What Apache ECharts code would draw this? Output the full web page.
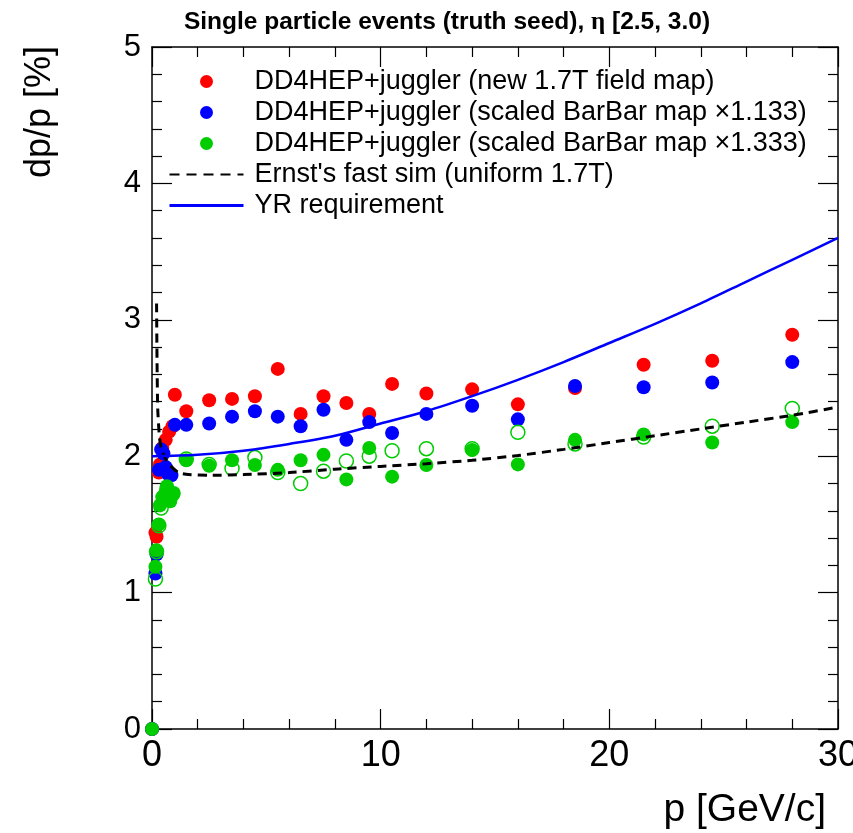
<!DOCTYPE html>
<html><head><meta charset="utf-8">
<script src="https://cdn.jsdelivr.net/npm/echarts@6/dist/echarts.min.js"></script>
<style>html,body{margin:0;padding:0;background:#fff}#c{width:853px;height:833px}</style>
</head><body><div id="c"></div>
<script>
// ---- data ----
const pRed  = [0, 0.15, 0.2, 0.3, 0.35, 0.45, 0.6, 0.75, 0.9, 1.0, 1.5, 2.5, 3.5, 4.5, 5.5, 6.5, 7.5, 8.5, 9.5, 10.5, 12, 14, 16, 18.5, 21.5, 24.5, 28];
const dpRed = [0, 1.44, 1.41, 1.88, 1.94, 2.06, 2.12, 2.18, 2.22, 2.45, 2.33, 2.41, 2.42, 2.44, 2.64, 2.31, 2.44, 2.39, 2.31, 2.53, 2.46, 2.49, 2.38, 2.50, 2.67, 2.70, 2.89];

const pBlue  = [0, 0.15, 0.2, 0.3, 0.4, 0.5, 0.6, 0.7, 0.85, 1.0, 1.5, 2.5, 3.5, 4.5, 5.5, 6.5, 7.5, 8.5, 9.5, 10.5, 12, 14, 16, 18.5, 21.5, 24.5, 28];
const dpBlue = [0, 1.14, 1.28, 1.90, 2.05, 2.02, 1.92, 1.87, 1.86, 2.23, 2.23, 2.24, 2.29, 2.33, 2.29, 2.22, 2.34, 2.12, 2.25, 2.17, 2.31, 2.37, 2.27, 2.515, 2.505, 2.54, 2.69];

const pGreen  = [0, 0.15, 0.2, 0.3, 0.35, 0.45, 0.6, 0.65, 0.8, 0.95, 1.5, 2.5, 3.5, 4.5, 5.5, 6.5, 7.5, 8.5, 9.5, 10.5, 12, 14, 16, 18.5, 21.5, 24.5, 28];
const dpGreen = [0, 1.19, 1.31, 1.50, 1.64, 1.70, 1.73, 1.78, 1.67, 1.73, 1.97, 1.93, 1.97, 1.935, 1.90, 1.97, 2.01, 1.83, 2.06, 1.85, 1.935, 2.045, 1.94, 2.12, 2.16, 2.10, 2.25];

const pGreenOpen  = [0.15, 0.2, 0.3, 0.4, 0.5, 0.65, 0.9, 1.5, 2.5, 3.5, 4.5, 5.5, 6.5, 7.5, 8.5, 9.5, 10.5, 12, 14, 16, 18.5, 21.5, 24.5, 28];
const dpGreenOpen = [1.10, 1.30, 1.49, 1.62, 1.70, 1.76, 1.72, 1.98, 1.94, 1.91, 1.99, 1.88, 1.80, 1.89, 1.965, 2.00, 2.04, 2.055, 2.055, 2.175, 2.09, 2.14, 2.22, 2.35];

const pErnst  = [0.2, 0.22, 0.25, 0.32, 0.4, 0.58, 0.87, 1.16, 1.6, 2.5, 4, 6, 8, 10, 12, 14, 16, 18, 20, 22, 24, 26, 28, 30];
const dpErnst = [3.12, 2.7, 2.35, 2.15, 2.06, 1.985, 1.92, 1.88, 1.865, 1.86, 1.865, 1.88, 1.905, 1.925, 1.945, 1.97, 2.005, 2.05, 2.10, 2.15, 2.20, 2.25, 2.30, 2.36];

const pYR  = [0, 2, 4, 6, 8, 10, 12, 14, 16, 18, 20, 22, 24, 26, 28, 30];
const dpYR = [2.0, 2.01, 2.04, 2.09, 2.15, 2.24, 2.33, 2.44, 2.56, 2.69, 2.83, 2.97, 3.12, 3.28, 3.44, 3.60];

const names = [
  'DD4HEP+juggler (new 1.7T field map)',
  'DD4HEP+juggler (scaled BarBar map \u00d71.133)',
  'DD4HEP+juggler (scaled BarBar map \u00d71.333)',
  "Ernst's fast sim (uniform 1.7T)",
  'YR requirement'
];
const titleMain = 'Single particle events (truth seed), ';
const titleEta = '\u03b7';
const titleRange = ' [2.5, 3.0)';
const xTitle = 'p [GeV/c]';
const yTitle = 'dp/p [%]';

const zip = (a, b) => a.map((v, i) => [v, b[i]]);
const FONT = '"Liberation Sans", Helvetica, Arial, sans-serif';

const chart = echarts.init(document.getElementById('c'), null, {renderer: 'canvas'});

const axisCommon = {
  axisLine: {show: true, onZero: false, lineStyle: {color: '#000', width: 1.5}},
  axisTick: {show: true, inside: true, length: 20, lineStyle: {color: '#000', width: 1.2}},
  minorTick: {show: true, splitNumber: 5, length: 10, lineStyle: {color: '#000', width: 1.2}},
  splitLine: {show: false},
  minorSplitLine: {show: false}
};

chart.setOption({
  animation: false,
  backgroundColor: '#fff',
  title: {
    text: '{b|' + titleMain + '}{e|' + titleEta + '}{b|' + titleRange + '}',
    left: 442, top: 5, textAlign: 'center',
    textStyle: {
      rich: {
        b: {fontFamily: FONT, fontWeight: 'bold', fontSize: 24.5, color: '#000'},
        e: {fontFamily: '"Liberation Serif", "DejaVu Serif", serif', fontSize: 25, color: '#000'}
      }
    }
  },
  grid: {left: 152, top: 47, width: 686, height: 682, containLabel: false, outerBoundsMode: 'none'},
  xAxis: [
    Object.assign({type: 'value', min: 0, max: 30, interval: 10, position: 'bottom',
      axisLabel: {show: true, margin: 9, fontSize: 36, fontFamily: FONT, color: '#000'}}, axisCommon),
    Object.assign({type: 'value', min: 0, max: 30, interval: 10, position: 'top',
      axisLabel: {show: false}}, axisCommon)
  ],
  yAxis: [
    Object.assign({type: 'value', min: 0, max: 5, interval: 1, position: 'left',
      axisLabel: {show: true, margin: 11, fontSize: 31, fontFamily: FONT, color: '#000'}}, axisCommon),
    Object.assign({type: 'value', min: 0, max: 5, interval: 1, position: 'right',
      axisLabel: {show: false}}, axisCommon)
  ],
  legend: {
    data: [
      {name: names[0]},
      {name: names[1]},
      {name: names[2]},
      {name: names[3], itemStyle: {opacity: 0}, lineStyle: {width: 2.2, type: [10, 7]}},
      {name: names[4], itemStyle: {opacity: 0}, lineStyle: {width: 3}}
    ],
    orient: 'vertical', left: 168, top: 66, padding: 0,
    itemWidth: 74, itemHeight: 13, itemGap: 0,
    selectedMode: false,
    textStyle: {fontFamily: FONT, fontSize: 27, color: '#000', lineHeight: 31, padding: [0, 0, 0, 6]}
  },
  graphic: [
    {type: 'text', x: 826, y: 810,
      style: {text: xTitle, font: '39px ' + FONT, fill: '#000', align: 'right', verticalAlign: 'middle'}},
    {type: 'text', x: 40, y: 112, rotation: Math.PI / 2,
      style: {text: yTitle, font: '36px ' + FONT, fill: '#000', align: 'center', verticalAlign: 'middle'}}
  ],
  series: [
    {name: names[0], type: 'scatter', data: zip(pRed, dpRed), symbol: 'circle', symbolSize: 14,
      itemStyle: {color: '#ff0000', opacity: 1}, clip: false, z: 3},
    {name: names[1], type: 'scatter', data: zip(pBlue, dpBlue), symbol: 'circle', symbolSize: 14,
      itemStyle: {color: '#0000ff', opacity: 1}, clip: false, z: 4},
    {name: names[2], type: 'scatter', data: zip(pGreen, dpGreen), symbol: 'circle', symbolSize: 14,
      itemStyle: {color: '#00cc00', opacity: 1}, clip: false, z: 5},
    {name: 'open', type: 'scatter', data: zip(pGreenOpen, dpGreenOpen), symbol: 'circle', symbolSize: 14,
      itemStyle: {color: 'rgba(0,0,0,0)', borderColor: '#00cc00', borderWidth: 1.5, opacity: 1}, clip: false, z: 5},
    {name: names[3], type: 'line', data: zip(pErnst, dpErnst), symbol: 'none', smooth: 0.2,
      lineStyle: {color: '#000', width: 3, type: [9, 6]}, itemStyle: {color: '#000'}, z: 6},
    {name: names[4], type: 'line', data: zip(pYR, dpYR), symbol: 'none', smooth: 0.3,
      lineStyle: {color: '#0000ff', width: 2.5}, itemStyle: {color: '#0000ff'}, z: 6}
  ]
});
</script></body></html>
